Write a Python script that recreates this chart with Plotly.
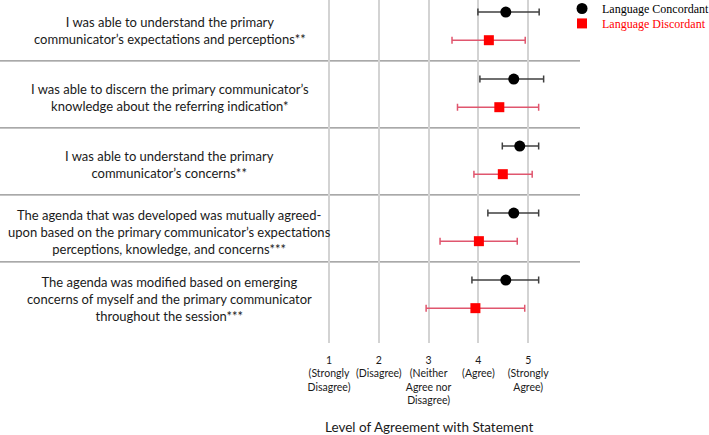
import plotly.graph_objects as go

statements = [
    "I was able to understand the primary<br>communicator’s expectations and perceptions**",
    "I was able to discern the primary communicator’s<br>knowledge about the referring indication*",
    "I was able to understand the primary<br>communicator’s concerns**",
    "The agenda that was developed was mutually agreed-<br>upon based on the primary communicator’s expectations<br>perceptions, knowledge, and concerns***",
    "The agenda was modified based on emerging<br>concerns of myself and the primary communicator<br>throughout the session***",
]

conc_mean = [4.55, 4.71, 4.83, 4.71, 4.55]
conc_low = [3.99, 4.03, 4.48, 4.19, 3.87]
conc_high = [5.22, 5.31, 5.21, 5.21, 5.21]

disc_mean = [4.21, 4.42, 4.49, 4.01, 3.94]
disc_low = [3.47, 3.58, 3.91, 3.23, 2.95]
disc_high = [4.94, 5.21, 5.08, 4.78, 4.93]

tick_vals = [1, 2, 3, 4, 5]
tick_text = [
    "1<br>(Strongly<br>Disagree)",
    "2<br>(Disagree)",
    "3<br>(Neither<br>Agree nor<br>Disagree)",
    "4<br>(Agree)",
    "5<br>(Strongly<br>Agree)",
]

n = len(statements)
y_conc = [i + 0.27 for i in range(n)]
y_disc = [i + 0.69 for i in range(n)]

fig = go.Figure()
fig.add_trace(go.Scatter(
    x=conc_mean, y=y_conc, mode="markers", name="Language Concordant",
    legend="legend",
    marker=dict(symbol="circle", size=11, color="black"),
    error_x=dict(type="data", symmetric=False,
                 array=[h - m for h, m in zip(conc_high, conc_mean)],
                 arrayminus=[m - l for m, l in zip(conc_mean, conc_low)],
                 color="#404040", thickness=1.5, width=3.5),
))
fig.add_trace(go.Scatter(
    x=disc_mean, y=y_disc, mode="markers",
    name="<span style='color:#ff0000'>Language Discordant</span>",
    legend="legend2",
    marker=dict(symbol="square", size=10, color="#ff0000"),
    error_x=dict(type="data", symmetric=False,
                 array=[h - m for h, m in zip(disc_high, disc_mean)],
                 arrayminus=[m - l for m, l in zip(disc_mean, disc_low)],
                 color="#e0566e", thickness=1.5, width=3.5),
))

# row separators
for k in range(1, n):
    fig.add_shape(type="line", xref="paper", yref="y", x0=0, x1=1, y0=k, y1=k,
                  line=dict(color="#8c8c8c", width=1.2), layer="below")

# statements
for i, s in enumerate(statements):
    fig.add_annotation(x=-2.2, y=i + 0.55, xref="x", yref="y", text=s,
                       showarrow=False, xanchor="center", yanchor="middle",
                       align="center",
                       font=dict(family="Lato", size=13, color="#1a1a1a"))

fig.add_annotation(x=3, y=0, xref="x", yref="paper", yanchor="top", yshift=-74,
                   text="Level of Agreement with Statement", showarrow=False,
                   font=dict(family="Lato", size=13.5, color="#1a1a1a"))

fig.update_xaxes(range=[-5.606, 6.04], tickvals=tick_vals, ticktext=tick_text,
                 tickangle=0, ticklabelstandoff=9,
                 showgrid=True, gridcolor="#d3d3d3", gridwidth=1.5,
                 zeroline=False, showline=False, ticks="",
                 tickfont=dict(family="Lato", size=10.5, color="#1a1a1a"))
fig.update_yaxes(range=[5.21, 0.09], showgrid=False, zeroline=False,
                 showticklabels=False, showline=False)

leg_common = dict(xanchor="left", yanchor="top",
                  font=dict(family="Liberation Serif", size=12, color="black"),
                  bgcolor="rgba(0,0,0,0)")
fig.update_layout(
    width=709, height=435,
    margin=dict(l=0, r=129, t=0, b=92, autoexpand=False),
    plot_bgcolor="white", paper_bgcolor="white",
    showlegend=True,
    legend=dict(x=0.969, y=1.0175, **leg_common),
    legend2=dict(x=0.969, y=0.974, **leg_common),
)

fig.write_html("out.html")
